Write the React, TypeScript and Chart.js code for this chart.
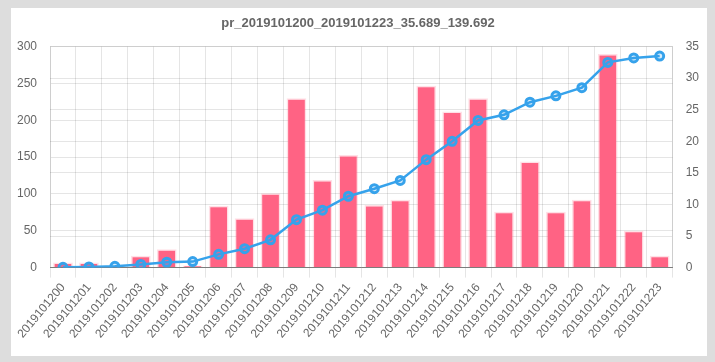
import React, { useEffect, useRef } from "react";
import { Chart, registerables } from "chart.js";

Chart.register(...registerables);

const TITLE = "pr_2019101200_2019101223_35.689_139.692";

const categories = [
  "2019101200", "2019101201", "2019101202", "2019101203", "2019101204", "2019101205",
  "2019101206", "2019101207", "2019101208", "2019101209", "2019101210", "2019101211",
  "2019101212", "2019101213", "2019101214", "2019101215", "2019101216", "2019101217",
  "2019101218", "2019101219", "2019101220", "2019101221", "2019101222", "2019101223",
];

const barValues = [
  7, 7, 2, 16, 25, 3,
  84, 67, 101, 230, 119, 153,
  85, 92, 247, 212, 230, 76,
  144, 76, 92, 290, 50, 16,
];

const lineValues = [
  0.05, 0.1, 0.2, 0.5, 0.85, 0.95,
  2.1, 3.0, 4.4, 7.6, 9.1, 11.3,
  12.5, 13.8, 17.1, 20.0, 23.3, 24.2,
  26.2, 27.2, 28.5, 32.5, 33.2, 33.5,
];

const leftTicks = { min: 0, max: 300, step: 50 };
const rightTicks = { min: 0, max: 35, step: 5 };

export default function App() {
  const ref = useRef<HTMLCanvasElement | null>(null);

  useEffect(() => {
    document.body.style.margin = "0";
    document.body.style.background = "#dddddd";
    const canvas = ref.current;
    if (!canvas) return;
    const font = { family: "'Liberation Sans', Arial, Helvetica, sans-serif", size: 12 };
    const chart = new Chart(canvas, {
      type: "bar",
      data: {
        labels: categories,
        datasets: [
          {
            type: "line",
            data: lineValues,
            yAxisID: "y1",
            order: 0,
            borderColor: "rgb(54,162,235)",
            backgroundColor: "rgba(54,162,235,0.2)",
            borderWidth: 2.5,
            pointRadius: 4,
            pointBorderWidth: 3,
            pointBackgroundColor: "rgba(54,162,235,0.2)",
            pointBorderColor: "rgb(54,162,235)",
            tension: 0,
            fill: false,
          },
          {
            type: "bar",
            data: barValues,
            yAxisID: "y",
            order: 1,
            backgroundColor: "rgb(255,99,132)",
            borderColor: "rgba(255,99,132,0.2)",
            borderWidth: 1.5,
            barPercentage: 0.95,
            categoryPercentage: 0.8,
          },
        ],
      },
      options: {
        animation: false,
        responsive: false,
        maintainAspectRatio: false,
        layout: { padding: { left: 3, right: 5, top: 0, bottom: 12 } },
        plugins: {
          legend: { display: false },
          tooltip: { enabled: false },
          title: {
            display: true,
            text: TITLE,
            color: "#666",
            font: { ...font, size: 13, weight: "bold" },
            padding: { top: 8, bottom: 15 },
          },
        },
        scales: {
          x: {
            grid: { color: "rgba(0,0,0,0.1)", offset: true, tickLength: 10 },
            border: { color: "rgba(0,0,0,0.4)" },
            ticks: { color: "#666", font, maxRotation: 50, minRotation: 50, autoSkip: false },
          },
          y: {
            position: "left",
            min: leftTicks.min,
            max: leftTicks.max,
            grid: { color: "rgba(0,0,0,0.1)", tickColor: "rgba(0,0,0,0)", tickLength: 10 },
            border: { color: "rgba(0,0,0,0.1)" },
            ticks: { stepSize: leftTicks.step, color: "#666", font },
          },
          y1: {
            position: "right",
            min: rightTicks.min,
            max: rightTicks.max,
            grid: { color: "rgba(0,0,0,0.1)", tickColor: "rgba(0,0,0,0)", tickLength: 10 },
            border: { color: "rgba(0,0,0,0.1)" },
            ticks: { stepSize: rightTicks.step, color: "#666", font },
          },
        },
      },
    } as any);
    return () => chart.destroy();
  }, []);

  return (
    <div
      style={{
        position: "absolute",
        left: 11,
        top: 8,
        width: 696,
        height: 348,
        background: "#ffffff",
      }}
    >
      <canvas ref={ref} width={696} height={348} style={{ display: "block", width: 696, height: 348 }} />
    </div>
  );
}
